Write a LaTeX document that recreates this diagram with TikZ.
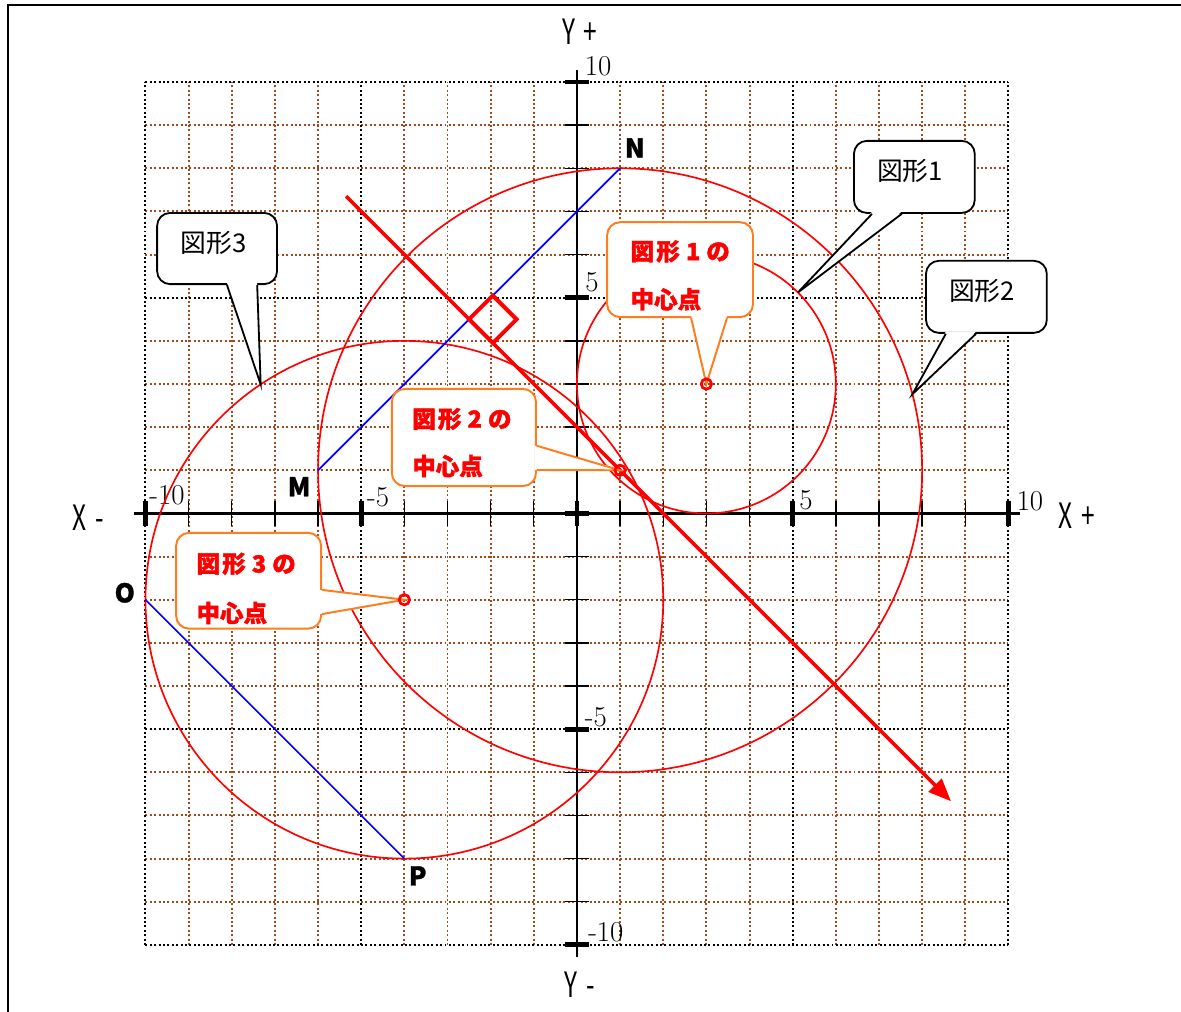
\documentclass[tikz,border=0pt]{standalone}
\usepackage{fontspec}
\usepackage{graphicx}
\newfontfamily\cjk{Noto Sans CJK JP}
\usetikzlibrary{calc,arrows.meta}
\definecolor{gridbrown}{RGB}{160,75,30}
\definecolor{callorange}{RGB}{255,125,30}
\begin{document}
\begin{tikzpicture}[
  gridb/.style={draw=gridbrown, line width=1.3pt, dash pattern=on 1.3pt off 1.6pt},
  gridk/.style={draw=black, line width=1.3pt, dash pattern=on 1.3pt off 1.6pt},
  axisline/.style={draw=black, line width=1.4pt},
  tickminor/.style={draw=black, line width=0.9pt},
  tickmajor/.style={draw=black, line width=3.2pt},
  fig/.style={draw=red, line width=1.1pt},
  seg/.style={draw=blue, line width=1.1pt},
  bisector/.style={draw=red, line width=2.3pt, -{Triangle[length=15pt,width=12pt]}},
  rightangle/.style={draw=red, line width=2.6pt, line join=miter},
  ctr/.style={draw=red, line width=1.8pt},
  numlbl/.style={inner sep=0pt, font=\fontsize{19}{21}\selectfont},
  axlbl/.style={inner sep=0pt, font=\cjk\fontsize{23}{25}\selectfont},
  ptlbl/.style={inner sep=0pt, font=\cjk\bfseries\addfontfeature{FakeBold=1.2}\fontsize{17}{19}\selectfont},
  blackcall/.style={draw=black, line width=1.2pt, fill=white, rounded corners=0.3cm, inner sep=0pt},
  blacktext/.style={inner sep=0pt, font=\cjk\fontsize{17}{20}\selectfont},
  orangecall/.style={draw=callorange, line width=1.3pt, fill=white, rounded corners=0.3cm, inner sep=0pt},
  orangetext/.style={inner sep=0pt, anchor=west, text=red, font=\cjk\bfseries\addfontfeature{FakeBold=1.8}\fontsize{15.5}{18}\selectfont},
  bside/.style={draw=black, line width=1.2pt},
  oside/.style={draw=callorange, line width=1.3pt}
]
\useasboundingbox (-13.372,-11.553) rectangle (14.0,11.9);
\clip (-13.372,-11.553) rectangle (14.0,11.9);
% frame
\draw[line width=1.3pt] (-13.19,-12) -- (-13.19,11.78) -- (14.2,11.78);
% grid
\foreach \i in {-9,-8,-7,-6,-4,-3,-2,-1,0,1,2,3,4,6,7,8,9} {
  \draw[gridb] (\i,-10) -- (\i,10);
  \draw[gridb] (-10,\i) -- (10,\i);
}
\foreach \i in {-10,-5,5,10} {
  \draw[gridk] (\i,-10) -- (\i,10);
  \draw[gridk] (-10,\i) -- (10,\i);
}
% axes
\draw[axisline] (-10.27,0) -- (10.27,0);
\draw[axisline] (0,-10.27) -- (0,10.27);
\foreach \i in {-9,-8,-7,-6,-4,-3,-2,-1,1,2,3,4,6,7,8,9} {
  \draw[tickminor] (\i,-0.28) -- (\i,0.28);
  \draw[tickminor] (-0.28,\i) -- (0.28,\i);
}
\foreach \i in {-10,-5,0,5,10} {
  \draw[tickmajor] (\i,-0.28) -- (\i,0.28);
  \draw[tickmajor] (-0.28,\i) -- (0.28,\i);
}
% axis numbers
\node[numlbl] (ny10) at (0.49,10.37) {10};
\node[numlbl] (ny5) at (0.35,5.36) {5};
\node[numlbl] (nym5) at (0.44,-4.72) {-5};
\node[numlbl] (nym10) at (0.67,-9.70) {-10};
\node[numlbl] (nxm10) at (-9.50,0.43) {-10};
\node[numlbl] (nxm5) at (-4.61,0.38) {-5};
\node[numlbl] (nx5) at (5.31,0.31) {5};
\node[numlbl] (nx10) at (10.50,0.29) {10};
% axis names
\node[axlbl] (yplus) at (0.07,11.16) {\scalebox{0.7}[1]{Y\hspace{0.35em}+}};
\node[axlbl] (yminus) at (0.07,-10.93) {\scalebox{0.7}[1]{Y\hspace{0.35em}-}};
\node[axlbl] (xminus) at (-11.33,-0.10) {\scalebox{0.7}[1]{X\hspace{0.35em}-}};
\node[axlbl] (xplus) at (11.59,-0.06) {\scalebox{0.7}[1]{X\hspace{0.35em}+}};
% key points
\coordinate (C1) at (3,3);
\coordinate (C2) at (1,1);
\coordinate (C3) at (-4,-2);
\coordinate (M) at (-6,1);
\coordinate (N) at (1,8);
\coordinate (O) at (-10,-2);
\coordinate (P) at (-4,-8);
\coordinate (H) at (-2.5,4.5);
\coordinate (S) at (-5.35,7.35);
\coordinate (E) at (8.67,-6.67);
% figures
\draw[fig] (C1) circle (3);
\draw[fig] (C2) circle (7);
\draw[fig] (C3) circle (6);
\draw[seg] (M) -- (N);
\draw[seg] (O) -- (P);
\draw[bisector] (S) -- (E);
\draw[rightangle] (H) -- ++(0.55,0.55) -- ++(0.55,-0.55) -- ++(-0.55,-0.55) -- cycle;
% point labels
\node[ptlbl] (lN) at (1.34,8.47) {N};
\node[ptlbl] (lM) at (-6.44,0.62) {M};
\node[ptlbl] (lO) at (-10.48,-1.84) {O};
\node[ptlbl] (lP) at (-3.69,-8.40) {P};
% black callouts
\coordinate (T1) at (5.121,5.121);
\coordinate (T2) at (7.775,2.764);
\coordinate (T3) at (-7.33,2.99);
\node[blackcall, minimum width=2.80cm, minimum height=1.67cm] (b1) at (7.82,7.80) {};
\fill[white] ($(b1.south west)+(0.44,0.05)$) -- (T1) -- ($(b1.south west)+(1.13,0.05)$) -- cycle;
\draw[bside] ($(b1.south west)+(0.44,0)$) -- (T1) -- ($(b1.south west)+(1.13,0)$);
\node[blacktext] (b1t) at ($(b1)+(-0.1,0.13)$) {図形1};
\node[blackcall, minimum width=2.80cm, minimum height=1.67cm] (b2) at (9.49,5.02) {};
\fill[white] ($(b2.south west)+(0.48,0.05)$) -- (T2) -- ($(b2.south west)+(1.18,0.05)$) -- cycle;
\draw[bside] ($(b2.south west)+(0.48,0)$) -- (T2) -- ($(b2.south west)+(1.18,0)$);
\node[blacktext] (b2t) at ($(b2)+(-0.1,0.13)$) {図形2};
\node[blackcall, minimum width=2.78cm, minimum height=1.65cm] (b3) at (-8.34,6.14) {};
\fill[white] ($(b3.south west)+(1.64,0.05)$) -- (T3) -- ($(b3.south west)+(2.34,0.05)$) -- cycle;
\draw[bside] ($(b3.south west)+(1.64,0)$) -- (T3) -- ($(b3.south west)+(2.34,0)$);
\node[blacktext] (b3t) at ($(b3)+(-0.08,0.13)$) {図形3};
% orange callouts
\node[orangecall, minimum width=3.38cm, minimum height=2.20cm] (o1) at (2.39,5.65) {};
\fill[white] ($(o1.south west)+(1.97,0.05)$) -- (C1) -- ($(o1.south west)+(2.80,0.05)$) -- cycle;
\draw[oside] ($(o1.south west)+(1.97,0)$) -- (C1) -- ($(o1.south west)+(2.80,0)$);
\node[orangetext] (o1a) at ($(o1.north west)+(0.56,-0.70)$) {図\hspace{1.5pt}形\hspace{4pt}1\hspace{4pt}の};
\node[orangetext] (o1b) at ($(o1.north west)+(0.56,-1.81)$) {中心点};
\node[orangecall, minimum width=3.34cm, minimum height=2.25cm] (o2) at (-2.62,1.76) {};
\fill[white] ($(o2.south east)+(-0.05,0.955)$) -- (C2) -- ($(o2.south east)+(-0.05,0.395)$) -- cycle;
\draw[oside] ($(o2.south east)+(0,0.955)$) -- (C2) -- ($(o2.south east)+(0,0.395)$);
\node[orangetext] (o2a) at ($(o2.north west)+(0.49,-0.72)$) {図\hspace{1.5pt}形\hspace{4pt}2\hspace{4pt}の};
\node[orangetext] (o2b) at ($(o2.north west)+(0.49,-1.81)$) {中心点};
\node[orangecall, minimum width=3.36cm, minimum height=2.22cm] (o3) at (-7.61,-1.56) {};
\fill[white] ($(o3.south east)+(-0.05,0.92)$) -- (C3) -- ($(o3.south east)+(-0.05,0.36)$) -- cycle;
\draw[oside] ($(o3.south east)+(0,0.92)$) -- (C3) -- ($(o3.south east)+(0,0.36)$);
\node[orangetext] (o3a) at ($(o3.north west)+(0.49,-0.74)$) {図\hspace{1.5pt}形\hspace{4pt}3\hspace{4pt}の};
\node[orangetext] (o3b) at ($(o3.north west)+(0.49,-1.88)$) {中心点};
% centre markers
\draw[ctr] (C1) circle (0.12);
\draw[ctr] (C2) circle (0.12);
\draw[ctr] (C3) circle (0.12);
\end{tikzpicture}
\end{document}
